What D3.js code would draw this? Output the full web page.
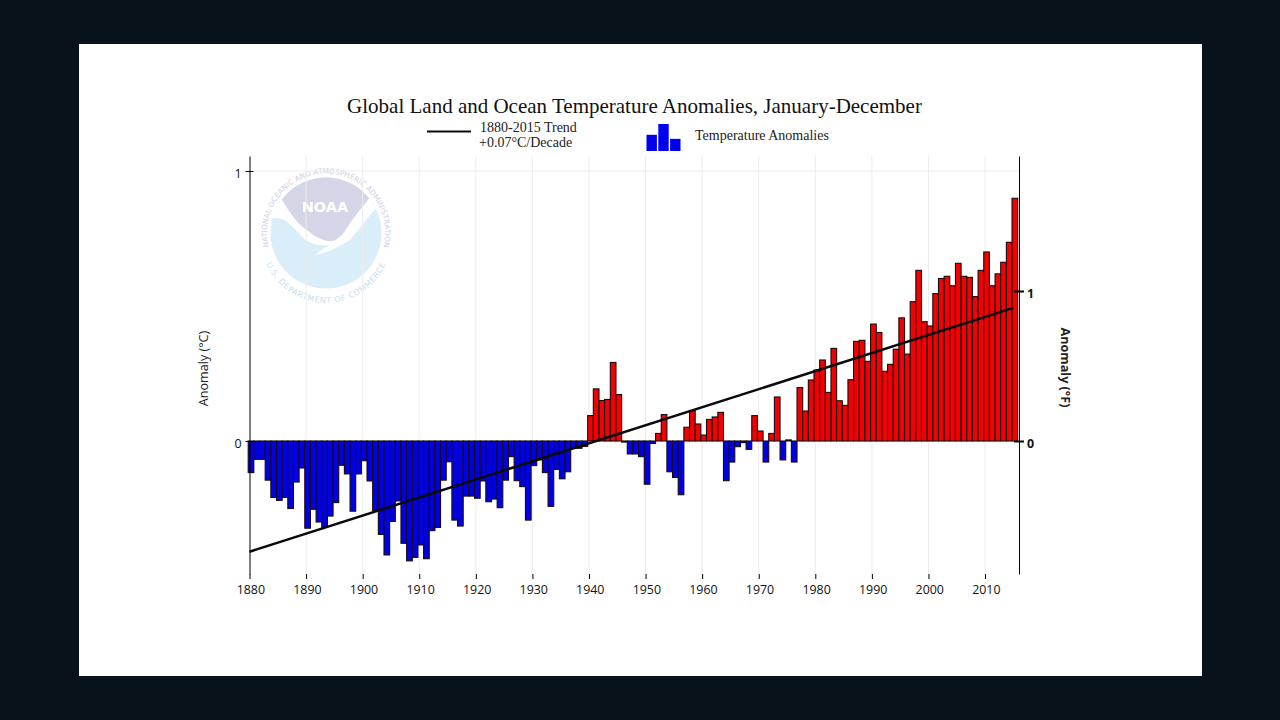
<!DOCTYPE html>
<html>
<head>
<meta charset="utf-8">
<script src="https://cdn.jsdelivr.net/npm/d3@7"></script>
<style>
  html, body { margin: 0; padding: 0; background: #07121a; }
  svg { display: block; }
</style>
</head>
<body>
<div class="canvas"></div>
<script>
const chartTitle = 'Global Land and Ocean Temperature Anomalies, January-December';
const firstYear = 1880;
// annual anomalies in deg C, 1880-2015
const anomalies = [
  -0.117, -0.068, -0.068, -0.145, -0.209, -0.22, -0.209, -0.25, -0.152, -0.1,
  -0.323, -0.253, -0.3, -0.32, -0.278, -0.228, -0.09, -0.122, -0.26, -0.122,
  -0.073, -0.148, -0.258, -0.346, -0.422, -0.298, -0.222, -0.379, -0.444, -0.431,
  -0.385, -0.436, -0.332, -0.32, -0.145, -0.077, -0.293, -0.315, -0.204, -0.204,
  -0.212, -0.148, -0.225, -0.215, -0.247, -0.145, -0.058, -0.147, -0.169, -0.293,
  -0.091, -0.07, -0.117, -0.242, -0.105, -0.14, -0.114, -0.027, -0.027, -0.02,
  0.094, 0.193, 0.15, 0.154, 0.291, 0.172, -0.004, -0.048, -0.048, -0.058,
  -0.16, -0.009, 0.028, 0.098, -0.114, -0.135, -0.199, 0.051, 0.112, 0.063,
  0.022, 0.08, 0.089, 0.106, -0.147, -0.078, -0.021, -0.006, -0.031, 0.094,
  0.037, -0.078, 0.028, 0.163, -0.07, 0.004, -0.078, 0.198, 0.111, 0.226,
  0.263, 0.3, 0.18, 0.343, 0.149, 0.132, 0.227, 0.369, 0.373, 0.295,
  0.433, 0.402, 0.258, 0.284, 0.34, 0.456, 0.322, 0.516, 0.632, 0.442,
  0.426, 0.546, 0.602, 0.61, 0.575, 0.658, 0.61, 0.606, 0.535, 0.632,
  0.7, 0.575, 0.619, 0.662, 0.736, 0.899
];
const years = anomalies.map((_, i) => firstYear + i);
const trendYears = [1880, 2015];
const trendValues = [-0.41, 0.493];
const decadeTicks = [1880, 1890, 1900, 1910, 1920, 1930, 1940, 1950, 1960, 1970, 1980, 1990, 2000, 2010];
const celsiusTicks = [0, 1];
const fahrenheitTicks = [0, 1];
const legendBars = [0.6, 1, 0.45];

const svg = d3.select('.canvas')
  .append('svg')
  .attr('width', 1280)
  .attr('height', 720);

svg.append('rect')
  .attr('x', 79).attr('y', 44)
  .attr('width', 1123).attr('height', 632)
  .attr('fill', '#fff');

// plot box
const plotLeft = 249.5, plotRight = 1019, plotTop = 156, plotBottom = 574;
const yearStep = 5.658;

const x = d3.scaleLinear()
  .domain([1880, 2015])
  .range([plotLeft, plotLeft + 135 * yearStep]);
const y = d3.scaleLinear()
  .domain([-0.4926, 1.0555])
  .range([plotBottom, plotTop]);
const yF = d3.scaleLinear()
  .domain([-0.4926 * 1.8, 1.0555 * 1.8])
  .range([plotBottom, plotTop]);

// NOAA seal, behind the grid
const seal = svg.append('g').attr('transform', 'translate(326,233)');
const sealDefs = svg.append('defs');
sealDefs.append('clipPath').attr('id', 'seal-clip')
  .append('circle').attr('r', 55.5);
seal.append('circle').attr('r', 55.5).attr('fill', '#d9eef9');
const sealInner = seal.append('g').attr('clip-path', 'url(#seal-clip)');
// white band above the water, with the bird's tail
sealInner.append('path')
  .attr('d', 'M-60,-60 L-60,-12 L-56,-13 C-46,-20 -36,-10 -24,4 C-16,12 -6,13 4,12 C-2,15 -7,18 -11,22 C2,20 14,13 24,7 C32,-2 40,-14 52,-27 L60,-60 Z')
  .attr('fill', '#fff');
sealInner.append('path')
  .attr('d', 'M-44,-33 C-36,-20 -28,-8 -19,-3 C-10,5 0,9 7,8 C14,6 20,-3 24,-10 C30,-18 36,-26 42,-33 L60,-60 L-60,-60 Z')
  .attr('fill', '#d5d5e8');
seal.append('text')
  .attr('x', -1).attr('y', -21)
  .attr('text-anchor', 'middle')
  .attr('font-family', '"DejaVu Sans", sans-serif')
  .attr('font-weight', 'bold')
  .attr('font-size', 14.5)
  .attr('fill', '#fff')
  .text('NOAA');

sealDefs.append('path').attr('id', 'seal-top')
  .attr('d', 'M-54.6,22 A59,59 0 1 1 54.6,22');
sealDefs.append('path').attr('id', 'seal-bottom')
  .attr('d', 'M-65,5 A65,65 0 0 0 65,5');
seal.append('text')
  .attr('font-family', '"DejaVu Sans", sans-serif')
  .attr('font-size', 7.4)
  .attr('fill', '#cfcfe4')
  .append('textPath')
  .attr('href', '#seal-top')
  .attr('startOffset', '50%')
  .attr('text-anchor', 'middle')
  .text('NATIONAL OCEANIC AND ATMOSPHERIC ADMINISTRATION');
seal.append('text')
  .attr('font-family', '"DejaVu Sans", sans-serif')
  .attr('font-size', 8)
  .attr('letter-spacing', 0.6)
  .attr('fill', '#c8deee')
  .append('textPath')
  .attr('href', '#seal-bottom')
  .attr('startOffset', '50%')
  .attr('text-anchor', 'middle')
  .text('U.S. DEPARTMENT OF COMMERCE');

// grid
svg.append('g').selectAll('line')
  .data(decadeTicks.slice(1))
  .join('line')
  .attr('x1', d => x(d)).attr('x2', d => x(d))
  .attr('y1', plotTop).attr('y2', plotBottom)
  .attr('stroke', '#ececec');
svg.append('line')
  .attr('x1', plotLeft).attr('x2', plotRight)
  .attr('y1', y(1)).attr('y2', y(1))
  .attr('stroke', '#ececec');

// bars
svg.append('g').selectAll('rect')
  .data(years)
  .join('rect')
  .attr('x', d => x(d) - 1.3)
  .attr('width', yearStep)
  .attr('y', (d, i) => y(Math.max(0, anomalies[i])))
  .attr('height', (d, i) => Math.abs(y(anomalies[i]) - y(0)))
  .attr('fill', (d, i) => anomalies[i] < 0 ? '#0000e6' : '#f40000')
  .attr('stroke', '#1a0a10')
  .attr('stroke-width', 1.1);

// trend
const trendLine = d3.line()
  .x(d => x(d))
  .y((d, i) => y(trendValues[i]));
svg.append('path')
  .attr('d', trendLine(trendYears))
  .attr('fill', 'none')
  .attr('stroke', '#0a0a0a')
  .attr('stroke-width', 2.5);

// axes
const axisFont = '"Open Sans", "Noto Sans", sans-serif';

const xAxis = d3.axisBottom(x)
  .tickValues(decadeTicks)
  .tickFormat(d3.format('d'))
  .tickSize(5)
  .tickSizeOuter(0)
  .tickPadding(6);
const xAxisGroup = svg.append('g')
  .attr('transform', `translate(0,${plotBottom})`)
  .call(xAxis);
xAxisGroup.select('.domain').remove();
xAxisGroup.selectAll('text')
  .attr('font-family', axisFont)
  .attr('font-size', 12.4)
  .attr('dx', 0.8)
  .attr('fill', '#111');

const yAxis = d3.axisLeft(y)
  .tickValues(celsiusTicks)
  .tickFormat(d3.format('d'))
  .tickSize(4)
  .tickSizeOuter(0)
  .tickPadding(4);
const yAxisGroup = svg.append('g')
  .attr('transform', `translate(${plotLeft},0)`)
  .call(yAxis);
yAxisGroup.selectAll('text')
  .attr('font-family', axisFont)
  .attr('font-size', 12.4)
  .attr('dy', '0.5em')
  .attr('fill', '#111');
yAxisGroup.selectAll('.tick line').attr('x2', 4).attr('x1', -4);

const yAxisRight = d3.axisRight(yF)
  .tickValues(fahrenheitTicks)
  .tickFormat(d3.format('d'))
  .tickSize(5)
  .tickSizeOuter(0)
  .tickPadding(3);
const yRightGroup = svg.append('g')
  .attr('transform', `translate(${plotRight},0)`)
  .call(yAxisRight);
yRightGroup.selectAll('text')
  .attr('font-family', axisFont)
  .attr('font-size', 12.4)
  .attr('font-weight', 'bold')
  .attr('dy', '0.5em')
  .attr('fill', '#111');
yRightGroup.selectAll('.tick line')
  .attr('x1', -5).attr('x2', 5)
  .attr('stroke-width', 2);

// axis titles
svg.append('text')
  .attr('transform', 'translate(208,368.5) rotate(-90)')
  .attr('text-anchor', 'middle')
  .attr('font-family', axisFont)
  .attr('font-size', 12.6)
  .attr('fill', '#222')
  .text('Anomaly (°C)');
svg.append('text')
  .attr('transform', 'translate(1061,367.5) rotate(90)')
  .attr('text-anchor', 'middle')
  .attr('font-family', axisFont)
  .attr('font-size', 12.6)
  .attr('font-weight', 'bold')
  .attr('fill', '#222')
  .text('Anomaly (°F)');

// title and legend
const serif = '"Liberation Serif", serif';
svg.append('text')
  .attr('x', 634.5).attr('y', 113)
  .attr('text-anchor', 'middle')
  .attr('font-family', serif)
  .attr('font-size', 21)
  .attr('fill', '#111')
  .text(chartTitle);

svg.append('line')
  .attr('x1', 427).attr('x2', 471)
  .attr('y1', 131.5).attr('y2', 131.5)
  .attr('stroke', '#0a0a0a')
  .attr('stroke-width', 2);
svg.append('text')
  .attr('x', 480).attr('y', 132)
  .attr('font-family', serif).attr('font-size', 14).attr('fill', '#222')
  .text('1880-2015 Trend');
svg.append('text')
  .attr('x', 479).attr('y', 147)
  .attr('font-family', serif).attr('font-size', 14).attr('fill', '#222')
  .text('+0.07°C/Decade');

const legendX = d3.scaleBand().domain(d3.range(legendBars.length)).range([646.5, 680.5]).paddingInner(0.12);
const legendY = d3.scaleLinear().domain([0, 1]).range([151, 124]);
svg.append('g').selectAll('rect')
  .data(legendBars)
  .join('rect')
  .attr('x', (d, i) => legendX(i))
  .attr('width', legendX.bandwidth())
  .attr('y', d => legendY(d))
  .attr('height', d => legendY(0) - legendY(d))
  .attr('fill', '#0000f0');
svg.append('text')
  .attr('x', 695).attr('y', 140)
  .attr('font-family', serif).attr('font-size', 14).attr('fill', '#222')
  .text('Temperature Anomalies');
</script>
</body>
</html>
